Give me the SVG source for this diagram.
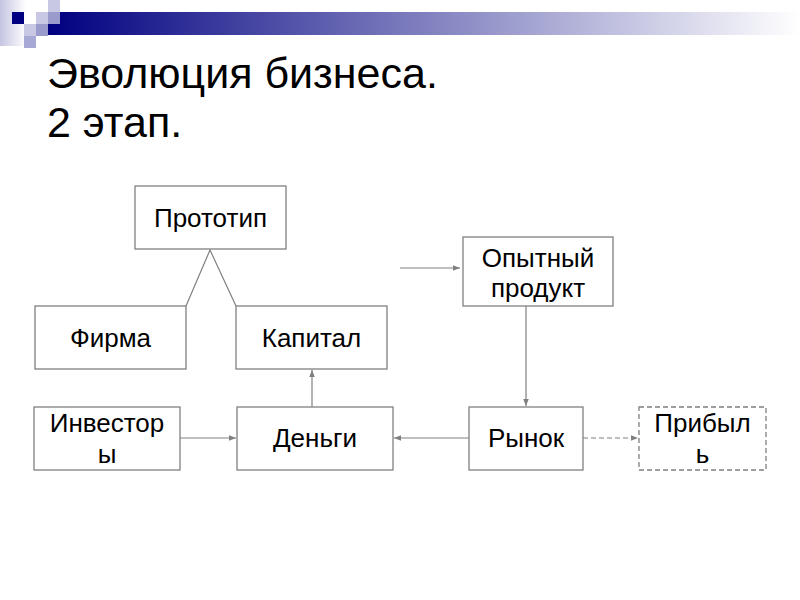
<svg xmlns="http://www.w3.org/2000/svg" width="800" height="600" viewBox="0 0 800 600">
<defs>
<linearGradient id="band" x1="0" y1="0" x2="1" y2="0">
<stop offset="0" stop-color="#000080"/>
<stop offset="1" stop-color="#ffffff"/>
</linearGradient>
<linearGradient id="side" x1="0" y1="0" x2="1" y2="0">
<stop offset="0" stop-color="#c4c4e2"/>
<stop offset="1" stop-color="#ffffff"/>
</linearGradient>
<marker id="arr" viewBox="0 0 10 10" refX="10" refY="5" markerWidth="6" markerHeight="6" orient="auto">
<path d="M0,1 L10,5 L0,9 z" fill="#808080"/>
</marker>
</defs>
<style>
.box{fill:#fff;stroke:#808080;stroke-width:1.3}
.dbox{fill:#fff;stroke:#808080;stroke-width:1.3;stroke-dasharray:5,3}
.t{font-family:"Liberation Sans",Arial,sans-serif;font-size:26px;fill:#000;text-anchor:middle}
.title{font-family:"Liberation Sans",Arial,sans-serif;font-size:43px;fill:#000}
.c{stroke:#808080;stroke-width:1.2;fill:none}
</style>
<rect width="800" height="600" fill="#fff"/>
<g id="decor">
<rect x="0" y="0" width="26" height="46" fill="url(#side)"/>
<rect x="48" y="12" width="752" height="23" fill="url(#band)"/>
<rect x="12" y="12" width="12" height="12" fill="#000080"/>
<rect x="48" y="0" width="12" height="12" fill="#c8c8e4"/>
<rect x="36" y="12" width="12" height="12" fill="#c8c8e4"/>
<rect x="48" y="12" width="12" height="12" fill="#9a9acc"/>
<rect x="24" y="24" width="12" height="12" fill="#c8c8e4"/>
<rect x="36" y="24" width="12" height="12" fill="#9a9acc"/>
<rect x="24" y="36" width="12" height="12" fill="#a8a8d4"/>
</g>
<g id="title">
<text class="title" x="47" y="88">Эволюция бизнеса.</text>
<text class="title" x="47" y="137">2 этап.</text>
</g>
<g id="connectors">
<polyline class="c" points="186,306 210,250 236,306"/>
<line class="c" x1="400" y1="268" x2="460" y2="268" marker-end="url(#arr)"/>
<line class="c" x1="526" y1="306" x2="526" y2="406" marker-end="url(#arr)"/>
<line class="c" x1="312" y1="407" x2="312" y2="370" marker-end="url(#arr)"/>
<line class="c" x1="180" y1="438" x2="236" y2="438" marker-end="url(#arr)"/>
<line class="c" x1="469" y1="438" x2="394" y2="438" marker-end="url(#arr)"/>
<line class="c" x1="583" y1="438" x2="638" y2="438" stroke-dasharray="5,3" marker-end="url(#arr)"/>
</g>
<g id="prototip">
<rect class="box" x="135" y="186" width="151" height="63"/>
<text class="t" x="210.5" y="227">Прототип</text>
</g>
<g id="firma">
<rect class="box" x="35" y="306" width="151" height="63"/>
<text class="t" x="110.5" y="347">Фирма</text>
</g>
<g id="kapital">
<rect class="box" x="236" y="306" width="151" height="63"/>
<text class="t" x="311.5" y="347">Капитал</text>
</g>
<g id="opytny">
<rect class="box" x="463" y="237" width="150" height="69"/>
<text class="t" x="538" y="267">Опытный</text>
<text class="t" x="538" y="297">продукт</text>
</g>
<g id="investory">
<rect class="box" x="34" y="407" width="146" height="63"/>
<text class="t" x="107" y="432">Инвестор</text>
<text class="t" x="107" y="463">ы</text>
</g>
<g id="dengi">
<rect class="box" x="237" y="407" width="156" height="63"/>
<text class="t" x="315" y="447">Деньги</text>
</g>
<g id="rynok">
<rect class="box" x="469" y="407" width="114" height="63"/>
<text class="t" x="526" y="447">Рынок</text>
</g>
<g id="pribyl">
<rect class="dbox" x="639" y="407" width="127" height="63"/>
<text class="t" x="702.5" y="432">Прибыл</text>
<text class="t" x="702.5" y="463">ь</text>
</g>
</svg>
